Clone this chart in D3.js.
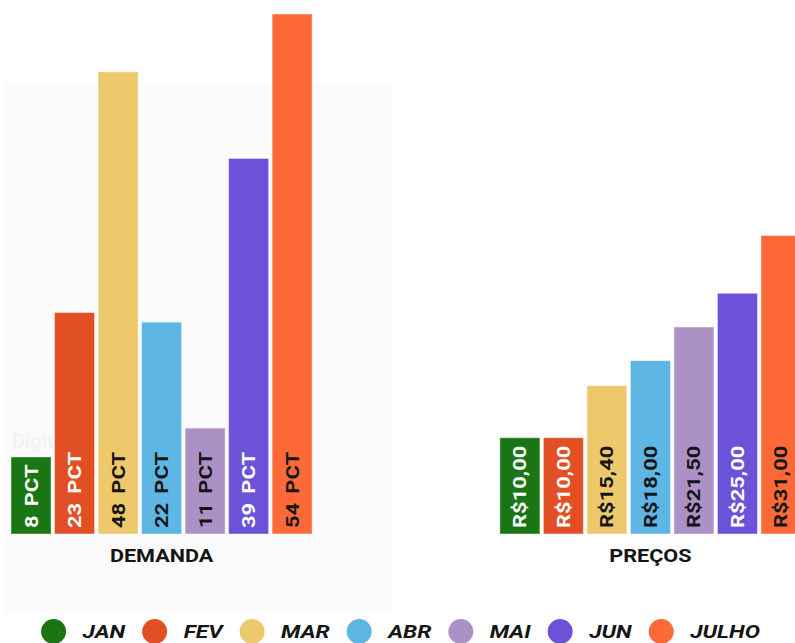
<!DOCTYPE html>
<html>
<head>
<meta charset="utf-8">
<script src="https://cdn.jsdelivr.net/npm/d3@7"></script>
<style>
  html, body { margin: 0; padding: 0; background: #ffffff; }
  svg { display: block; font-family: Roboto, "Noto Sans", Arial, sans-serif; }
</style>
</head>
<body>
<svg id="chart" width="795" height="643"></svg>
<script>
// ---- data ----
const groups = ["DEMANDA", "PREÇOS"];
const months = ["JAN", "FEV", "MAR", "ABR", "MAI", "JUN", "JULHO"];
const demanda = [8, 23, 48, 22, 11, 39, 54];
const precos = [10.00, 10.00, 15.40, 18.00, 21.50, 25.00, 31.00];
const colors = ["#1a7614", "#e34f24", "#eec96b", "#5db6e4", "#ab91c6", "#6b52d9", "#fd6a38"];
const labelColors = ["#ffffff", "#ffffff", "#151515", "#151515", "#151515", "#ffffff", "#151515"];
const yMax = 54;

const svg = d3.select("#chart");
const W = 795, H = 643;

// faint background panel
svg.append("rect")
  .attr("x", 5).attr("y", 84).attr("width", 387).attr("height", 528)
  .attr("fill", "#fbfbfb");
svg.append("text")
  .attr("x", 12).attr("y", 448)
  .attr("font-size", 20).attr("font-weight", 700)
  .attr("fill", "#f3f3f3")
  .text("Digital");

// scales
const x0 = d3.scaleBand().domain(groups).range([11, 801]).paddingInner(0.384).paddingOuter(0);
const x1 = d3.scaleBand().domain(months).range([0, x0.bandwidth()]).paddingInner(0.08).paddingOuter(0);
const y = d3.scaleLinear().domain([0, yMax]).range([534, 14]);

const fmtBRL = v => "R$" + d3.format(".2f")(v).replace(".", ",");

const series = [
  { group: "DEMANDA", values: demanda, label: v => v + " PCT" },
  { group: "PREÇOS", values: precos, label: fmtBRL }
];

series.forEach(s => {
  const g = svg.append("g").attr("transform", `translate(${x0(s.group)},0)`);
  const data = months.map((m, i) => ({ m, i, v: s.values[i] }));
  g.selectAll("rect.bar").data(data).join("rect")
    .attr("class", "bar")
    .attr("x", d => x1(d.m))
    .attr("y", d => y(d.v))
    .attr("width", x1.bandwidth())
    .attr("height", d => y(0) - y(d.v))
    .attr("fill", d => colors[d.i])
    .attr("stroke", "#ffffff")
    .attr("stroke-opacity", 0.45)
    .attr("stroke-width", 1);
  g.selectAll("text.lbl").data(data).join("text")
    .attr("class", "lbl")
    .attr("transform", d => `translate(${x1(d.m) + x1.bandwidth() / 2},${y(0) - 6}) rotate(-90) scale(1.22,1)`)
    .attr("dy", "0.36em")
    .attr("font-size", 18)
    .attr("font-weight", 700)
    .attr("word-spacing", "3px")
    .attr("fill", d => labelColors[d.i])
    .text(d => s.label(d.v));
  svg.append("text")
    .attr("transform", `translate(${x0(s.group) + x0.bandwidth() / 2},562) scale(1.2,1)`)
    .attr("text-anchor", "middle")
    .attr("font-size", 18)
    .attr("font-weight", 700)
    .attr("fill", "#151515")
    .text(s.group);
});

// legend
const legend = svg.append("g");
const r = 12.5, gapText = 16.5, gapItem = 17, sx = 1.2;
let cx = 0;
months.forEach((m, i) => {
  const it = legend.append("g").attr("transform", `translate(${cx},0)`);
  it.append("circle").attr("cx", r).attr("cy", 631.5).attr("r", r).attr("fill", colors[i]);
  const t = it.append("text")
    .attr("transform", `translate(${2 * r + gapText},637.5) scale(${sx},1)`)
    .attr("font-size", 19)
    .attr("font-weight", 700)
    .attr("font-style", "italic")
    .attr("fill", "#151515")
    .text(m);
  const w = t.node().getComputedTextLength() * sx;
  cx += 2 * r + gapText + w + gapItem;
});
const totalW = cx - gapItem;
legend.attr("transform", `translate(${(W - totalW) / 2 + 3},0)`);
</script>
</body>
</html>
